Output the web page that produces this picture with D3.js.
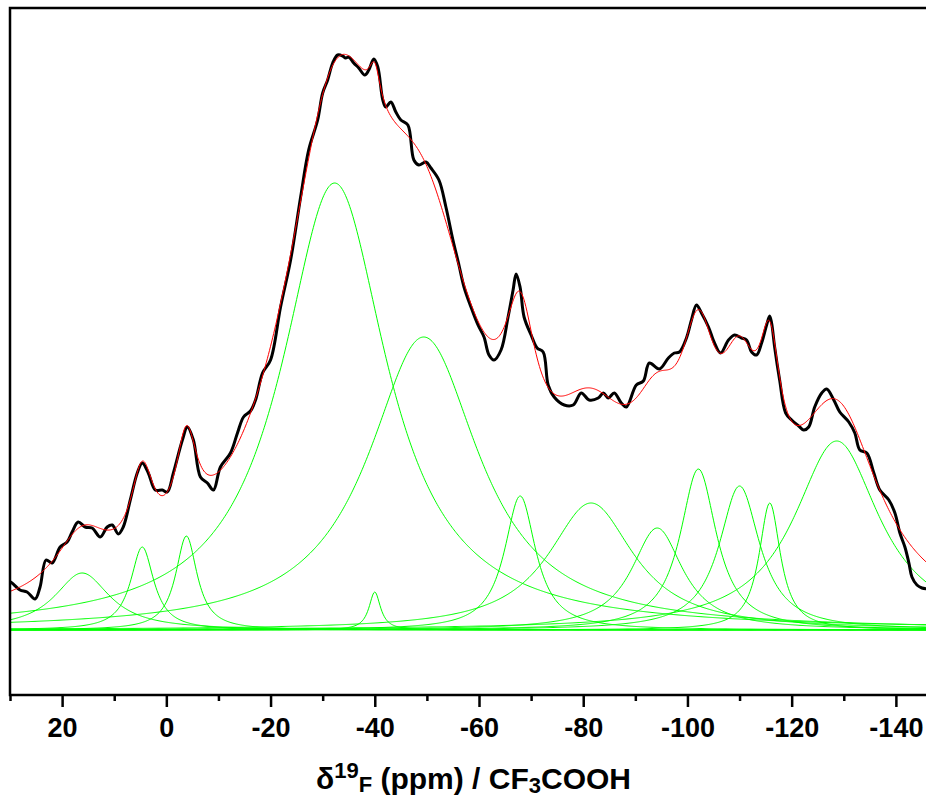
<!DOCTYPE html>
<html>
<head>
<meta charset="utf-8">
<script src="https://cdn.jsdelivr.net/npm/d3@7"></script>
<style>
    body { margin: 0; background: #fff; }
    svg { display: block; }
</style>
</head>
<body>
<div id="chart"></div>
<script>
// 19F MAS NMR spectrum: experimental trace (black), fit (red), components (green)

// experimental spectrum, chemical shift (ppm) and intensity (a.u.)
const expPpm = [
    30.0, 29.62, 28.08, 26.73, 25.19, 24.23, 23.08, 21.92, 20.38, 19.04,
    18.08, 16.92, 15.58, 14.23, 12.69, 11.35, 10.38, 9.23, 8.27, 6.92,
    5.58, 4.62, 3.46, 2.12, 0.77, -0.19, -1.35, -3.08, -4.04, -5.19,
    -6.54, -7.88, -9.04, -10.38, -12.31, -13.65, -14.81, -16.15, -17.12, -18.46,
    -20.0, -21.92, -23.85, -25.77, -27.31, -29.04, -30.0, -30.96, -31.92, -32.88,
    -33.85, -34.42, -35.0, -35.96, -36.92, -38.08, -38.85, -39.81, -40.58, -41.54,
    -42.12, -43.08, -44.04, -45.0, -46.35, -47.5, -48.46, -49.81, -50.77, -52.31,
    -53.65, -55.0, -56.15, -57.12, -58.46, -59.81, -60.96, -61.92, -62.88, -64.23,
    -65.58, -66.54, -67.12, -67.88, -68.65, -70.0, -71.15, -72.31, -73.27, -74.42,
    -76.35, -78.08, -79.62, -81.15, -82.88, -83.85, -84.81, -85.96, -87.31, -88.27,
    -90.19, -91.54, -92.69, -94.62, -96.35, -97.5, -98.46, -99.81, -100.77, -101.73,
    -102.69, -104.04, -105.19, -106.35, -107.88, -109.04, -110.38, -111.35, -112.31, -113.27,
    -114.23, -115.19, -115.77, -116.15, -116.73, -117.69, -118.85, -120.0, -121.35, -122.31,
    -123.27, -124.42, -125.77, -126.73, -128.08, -129.23, -130.96, -132.12, -133.08, -134.42,
    -135.77, -136.92, -138.65, -139.81, -140.77, -141.73, -142.5, -143.08, -144.04, -145.0,
    -146.15, -148.0, -150.0
];
const expIntensity = [
    48, 47, 40, 38, 31, 43, 70, 67, 83, 88,
    98, 108, 103, 102, 93, 103, 105, 96, 103, 130,
    157, 167, 157, 140, 140, 138, 157, 190, 203, 190,
    153, 147, 140, 163, 177, 197, 213, 219, 230, 257,
    270, 323, 370, 433, 480, 510, 537, 550, 567, 575,
    574, 572, 573, 567, 562, 555, 560, 571, 563, 530,
    523, 528, 518, 510, 505, 470, 465, 468, 462, 450,
    423, 390, 365, 343, 323, 305, 293, 275, 270, 280,
    313, 340, 356, 343, 313, 295, 282, 278, 245, 233,
    225, 225, 237, 230, 232, 237, 232, 237, 227, 223,
    245, 249, 267, 261, 272, 277, 278, 292, 310, 325,
    317, 303, 287, 277, 290, 295, 292, 290, 278, 275,
    287, 305, 314, 307, 283, 250, 217, 210, 204, 200,
    203, 223, 237, 241, 230, 218, 208, 197, 180, 177,
    157, 140, 130, 117, 97, 83, 67, 53, 45, 42,
    41, 40, 40
];

// fitted Lorentzian components: centre (ppm), height (a.u.), FWHM (ppm)
const peakCenter = [16.15, 4.62, -3.85, -32.3, -40.0, -49.4, -67.9, -81.5, -94.2, -102.1, -110.0, -115.8, -128.65];
const peakHeight = [57, 83, 94, 447, 38, 293, 134, 127, 102, 161, 144, 127, 189];
const peakFwhm   = [12.9, 5.4, 5.0, 24.6, 2.7, 26, 7.3, 20, 12, 8.5, 9.5, 5, 20];

// axis ticks
const majorTicks = [20, 0, -20, -40, -60, -80, -100, -120, -140];
const minorTicks = [30, 10, -10, -30, -50, -70, -90, -110, -130, -150];

const width = 926, height = 800;
const plot = {left: 10, right: 948, top: 8, bottom: 695};

const x = d3.scaleLinear().domain([30, -150]).range([plot.left, plot.right]);
const y = d3.scaleLinear().domain([-65, 622]).range([plot.bottom, plot.top]);

const svg = d3.select('#chart')
    .append('svg')
    .attr('width', width)
    .attr('height', height)
    .style('font-family', '"Liberation Sans", Arial, sans-serif');

function lorentz(p, i) {
    const hw = peakFwhm[i] / 2;
    const t = (p - peakCenter[i]) / hw;
    return peakHeight[i] / (1 + t * t);
}

const grid = d3.range(30, -150.001, -0.2);
const components = peakCenter.map((c, i) => grid.map(p => [p, lorentz(p, i)]));
const fit = grid.map(p => [p, d3.sum(peakCenter, (c, i) => lorentz(p, i))]);
const spectrum = expPpm.map((p, i) => [p, expIntensity[i]]);

const line = d3.line()
    .x(d => x(d[0]))
    .y(d => y(d[1]));

// components
svg.append('g')
    .selectAll('path')
    .data(components)
    .enter()
    .append('path')
    .attr('d', line)
    .attr('fill', 'none')
    .attr('stroke', '#00ff00')
    .attr('stroke-width', 1);

// experimental trace
svg.append('path')
    .datum(spectrum)
    .attr('d', line.curve(d3.curveCatmullRom.alpha(0.5)))
    .attr('fill', 'none')
    .attr('stroke', '#000')
    .attr('stroke-width', 3)
    .attr('stroke-linejoin', 'round');

// fit
svg.append('path')
    .datum(fit)
    .attr('d', line.curve(d3.curveLinear))
    .attr('fill', 'none')
    .attr('stroke', '#ff0000')
    .attr('stroke-width', 1);

// frame
svg.append('rect')
    .attr('x', plot.left)
    .attr('y', plot.top)
    .attr('width', plot.right - plot.left)
    .attr('height', plot.bottom - plot.top)
    .attr('fill', 'none')
    .attr('stroke', '#000')
    .attr('stroke-width', 2.5);

// bottom axis
const major = svg.append('g')
    .attr('transform', `translate(0,${plot.bottom})`)
    .call(d3.axisBottom(x).tickValues(majorTicks).tickSize(12).tickPadding(11).tickFormat(d => String(d)));
const minor = svg.append('g')
    .attr('transform', `translate(0,${plot.bottom})`)
    .call(d3.axisBottom(x).tickValues(minorTicks).tickSize(6).tickFormat(''));

[major, minor].forEach(g => {
    g.select('.domain').remove();
    g.selectAll('line').attr('stroke', '#000').attr('stroke-width', 2.5);
});
major.selectAll('text')
    .attr('fill', '#000')
    .style('font-family', '"Liberation Sans", Arial, sans-serif')
    .style('font-size', '27px')
    .style('font-weight', 'bold');

// axis title
const title = svg.append('text')
    .attr('x', 316)
    .attr('y', 789)
    .style('font-size', '30px')
    .style('font-weight', 'bold')
    .attr('fill', '#000');
title.append('tspan').text('δ');
title.append('tspan').attr('dy', -11).style('font-size', '22px').text('19');
title.append('tspan').attr('dy', 14).style('font-size', '22px').text('F');
title.append('tspan').attr('dy', -3).text(' (ppm) / CF');
title.append('tspan').attr('dy', 4).style('font-size', '22px').text('3');
title.append('tspan').attr('dy', -4).text('COOH');
</script>
</body>
</html>
